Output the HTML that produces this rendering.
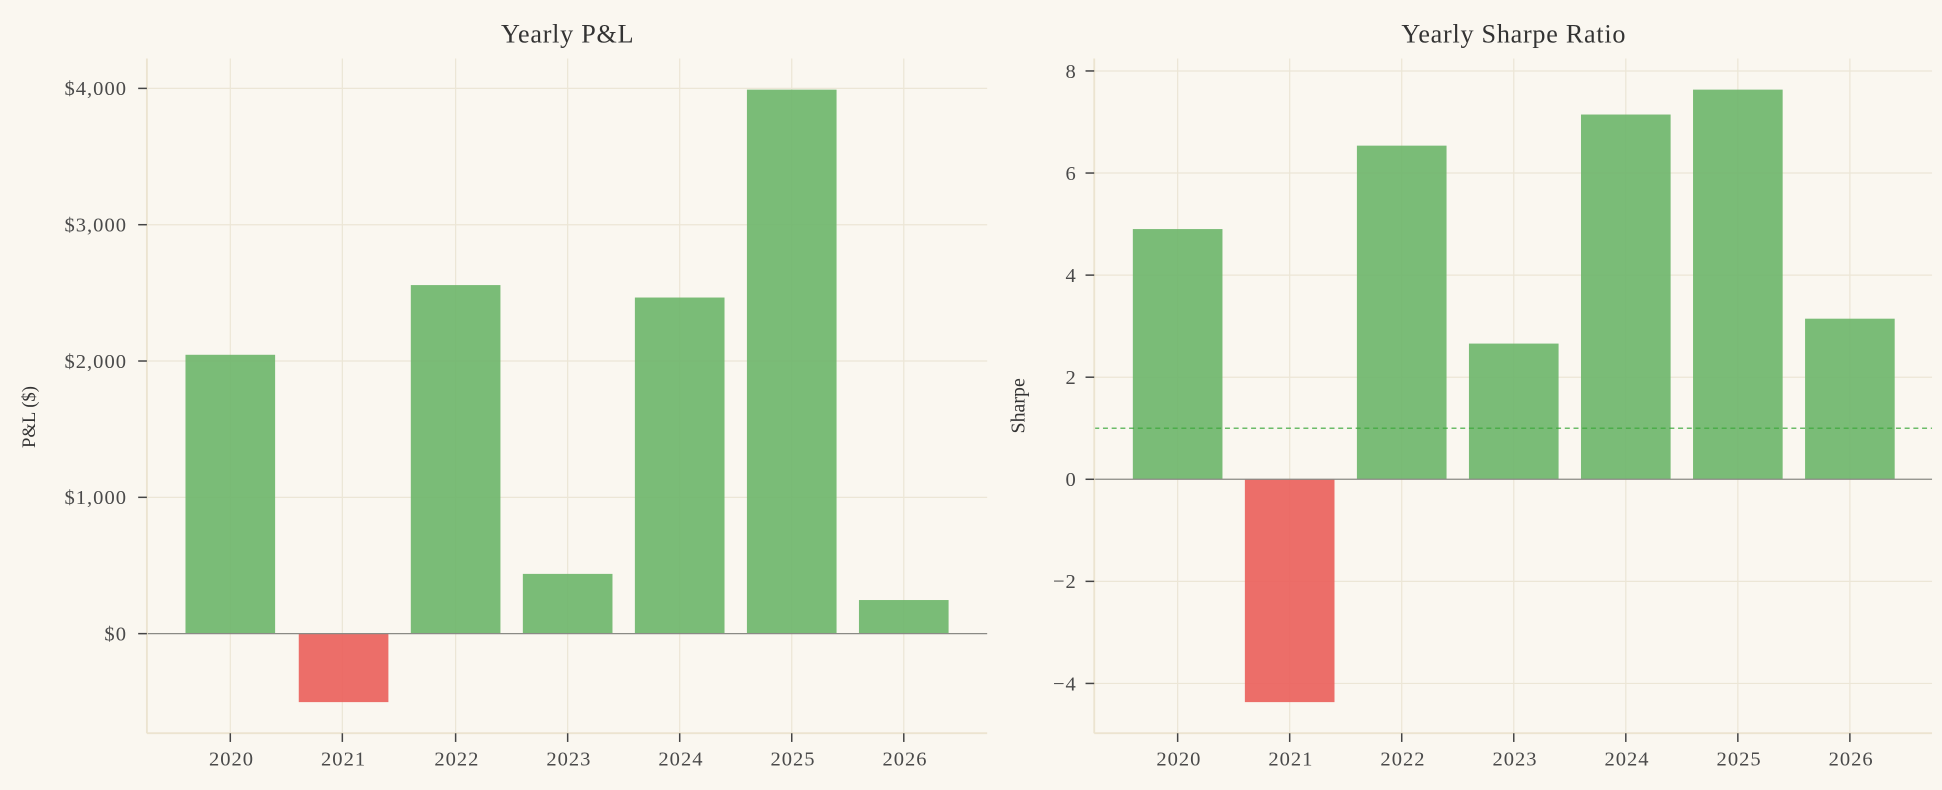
<!DOCTYPE html>
<html><head><meta charset="utf-8"><style>
html,body{margin:0;padding:0;background:#faf7f0;}
svg{display:block;font-family:"Liberation Serif",serif;}
</style></head><body>
<svg width="1942" height="790" viewBox="0 0 1560 634.6" preserveAspectRatio="none">
<rect x="0" y="0" width="1560" height="634.6" fill="#faf7f0"/>
<!-- LEFT -->
<g stroke="#ece6d6" stroke-width="1">
<line x1="185" y1="47" x2="185" y2="589"/><line x1="275" y1="47" x2="275" y2="589"/><line x1="366" y1="47" x2="366" y2="589"/><line x1="456" y1="47" x2="456" y2="589"/><line x1="546" y1="47" x2="546" y2="589"/><line x1="636" y1="47" x2="636" y2="589"/><line x1="726" y1="47" x2="726" y2="589"/>
<line x1="118" y1="71" x2="793" y2="71"/><line x1="118" y1="180.5" x2="793" y2="180.5"/><line x1="118" y1="290" x2="793" y2="290"/><line x1="118" y1="399.5" x2="793" y2="399.5"/>
</g>
<g fill-opacity="0.92">
<rect x="149" y="285" width="72" height="224" fill="#6fb66d"/>
<rect x="240" y="509" width="72" height="55" fill="#ea625d"/>
<rect x="330" y="229" width="72" height="280" fill="#6fb66d"/>
<rect x="420" y="461" width="72" height="48" fill="#6fb66d"/>
<rect x="510" y="239" width="72" height="270" fill="#6fb66d"/>
<rect x="600" y="72" width="72" height="437" fill="#6fb66d"/>
<rect x="690" y="482" width="72" height="27" fill="#6fb66d"/>
</g>
<line x1="118" y1="509" x2="793" y2="509" stroke="#8a8a85" stroke-width="1"/>
<line x1="118" y1="47" x2="118" y2="589" stroke="#ece4d0" stroke-width="1.5"/>
<line x1="118" y1="589" x2="793" y2="589" stroke="#ece4d0" stroke-width="1.5"/>
<g stroke="#444" stroke-width="1.2">
<line x1="111" y1="71" x2="118" y2="71"/><line x1="111" y1="180.5" x2="118" y2="180.5"/><line x1="111" y1="290" x2="118" y2="290"/><line x1="111" y1="399.5" x2="118" y2="399.5"/><line x1="111" y1="509" x2="118" y2="509"/>
<line x1="185" y1="589" x2="185" y2="596"/><line x1="275" y1="589" x2="275" y2="596"/><line x1="366" y1="589" x2="366" y2="596"/><line x1="456" y1="589" x2="456" y2="596"/><line x1="546" y1="589" x2="546" y2="596"/><line x1="636" y1="589" x2="636" y2="596"/><line x1="726" y1="589" x2="726" y2="596"/>
</g>
<g fill="#4a4a4a" font-size="16.5" letter-spacing="0.8" text-anchor="end">
<text x="102" y="76.5">$4,000</text><text x="102" y="186">$3,000</text><text x="102" y="295.5">$2,000</text><text x="102" y="405">$1,000</text><text x="102" y="514.5">$0</text>
</g>
<g fill="#4a4a4a" font-size="16.5" letter-spacing="0.8" text-anchor="middle">
<text x="186" y="615">2020</text><text x="276" y="615">2021</text><text x="367" y="615">2022</text><text x="457" y="615">2023</text><text x="547" y="615">2024</text><text x="637" y="615">2025</text><text x="727" y="615">2026</text>
</g>
<text x="28" y="335" transform="rotate(-90 28 335)" text-anchor="middle" font-size="15" fill="#333">P&amp;L ($)</text>
<text x="456" y="34" text-anchor="middle" font-size="21" letter-spacing="0.6" fill="#333">Yearly P&amp;L</text>

<!-- RIGHT -->
<g stroke="#ece6d6" stroke-width="1">
<line x1="946" y1="47" x2="946" y2="589"/><line x1="1036" y1="47" x2="1036" y2="589"/><line x1="1126" y1="47" x2="1126" y2="589"/><line x1="1216" y1="47" x2="1216" y2="589"/><line x1="1306" y1="47" x2="1306" y2="589"/><line x1="1396" y1="47" x2="1396" y2="589"/><line x1="1486" y1="47" x2="1486" y2="589"/>
<line x1="879" y1="57" x2="1552" y2="57"/><line x1="879" y1="139" x2="1552" y2="139"/><line x1="879" y1="221" x2="1552" y2="221"/><line x1="879" y1="303" x2="1552" y2="303"/><line x1="879" y1="467" x2="1552" y2="467"/><line x1="879" y1="549" x2="1552" y2="549"/>
</g>
<g fill-opacity="0.92">
<rect x="910" y="184" width="72" height="201" fill="#6fb66d"/>
<rect x="1000" y="385" width="72" height="179" fill="#ea625d"/>
<rect x="1090" y="117" width="72" height="268" fill="#6fb66d"/>
<rect x="1180" y="276" width="72" height="109" fill="#6fb66d"/>
<rect x="1270" y="92" width="72" height="293" fill="#6fb66d"/>
<rect x="1360" y="72" width="72" height="313" fill="#6fb66d"/>
<rect x="1450" y="256" width="72" height="129" fill="#6fb66d"/>
</g>
<line x1="879" y1="344" x2="1552" y2="344" stroke="#3ca83c" stroke-width="0.9" stroke-dasharray="4,3"/>
<line x1="879" y1="385" x2="1552" y2="385" stroke="#8a8a85" stroke-width="1"/>
<line x1="879" y1="47" x2="879" y2="589" stroke="#ece4d0" stroke-width="1.5"/>
<line x1="879" y1="589" x2="1552" y2="589" stroke="#ece4d0" stroke-width="1.5"/>
<g stroke="#444" stroke-width="1.2">
<line x1="872" y1="57" x2="879" y2="57"/><line x1="872" y1="139" x2="879" y2="139"/><line x1="872" y1="221" x2="879" y2="221"/><line x1="872" y1="303" x2="879" y2="303"/><line x1="872" y1="385" x2="879" y2="385"/><line x1="872" y1="467" x2="879" y2="467"/><line x1="872" y1="549" x2="879" y2="549"/>
<line x1="946" y1="589" x2="946" y2="596"/><line x1="1036" y1="589" x2="1036" y2="596"/><line x1="1126" y1="589" x2="1126" y2="596"/><line x1="1216" y1="589" x2="1216" y2="596"/><line x1="1306" y1="589" x2="1306" y2="596"/><line x1="1396" y1="589" x2="1396" y2="596"/><line x1="1486" y1="589" x2="1486" y2="596"/>
</g>
<g fill="#4a4a4a" font-size="16.5" letter-spacing="0.8" text-anchor="end">
<text x="865" y="62.5">8</text><text x="865" y="144.5">6</text><text x="865" y="226.5">4</text><text x="865" y="308.5">2</text><text x="865" y="390.5">0</text><text x="865" y="472.5">−2</text><text x="865" y="554.5">−4</text>
</g>
<g fill="#4a4a4a" font-size="16.5" letter-spacing="0.8" text-anchor="middle">
<text x="947" y="615">2020</text><text x="1037" y="615">2021</text><text x="1127" y="615">2022</text><text x="1217" y="615">2023</text><text x="1307" y="615">2024</text><text x="1397" y="615">2025</text><text x="1487" y="615">2026</text>
</g>
<text x="823" y="326" transform="rotate(-90 823 326)" text-anchor="middle" font-size="16" fill="#333">Sharpe</text>
<text x="1216" y="34" text-anchor="middle" font-size="21" letter-spacing="0.6" fill="#333">Yearly Sharpe Ratio</text>
</svg>
</body></html>
